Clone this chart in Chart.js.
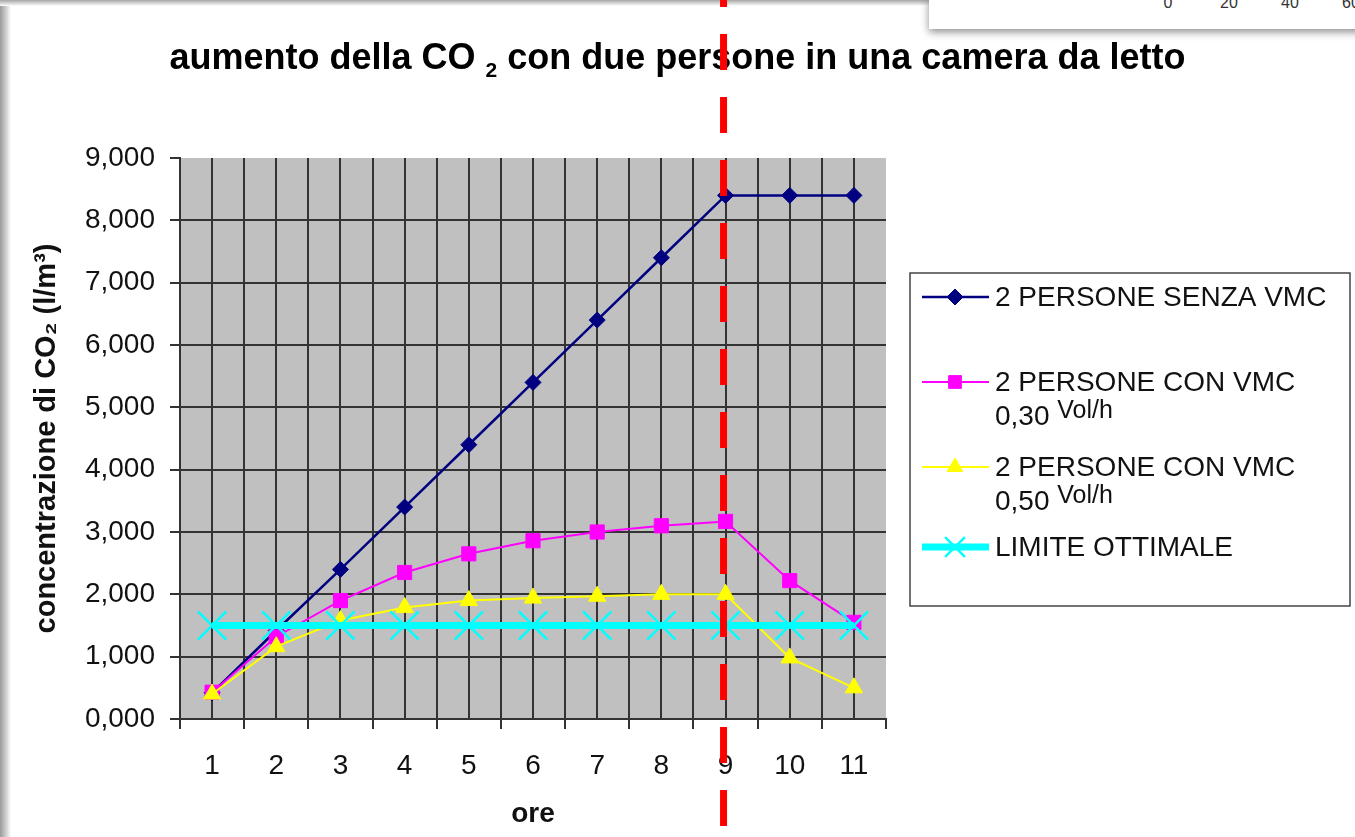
<!DOCTYPE html>
<html>
<head>
<meta charset="utf-8">
<title>aumento della CO2</title>
<script src="https://cdn.jsdelivr.net/npm/chart.js@4.4.1/dist/chart.umd.min.js"></script>
<style>
  html, body { margin: 0; padding: 0; background: #fff; }
  #pagina { position: relative; width: 1355px; height: 837px; overflow: hidden; background: #fff;
            font-family: 'Liberation Sans', Arial, sans-serif; }
  .ombra-sx { position: absolute; left: 0; top: 0; width: 11px; height: 837px;
              background: linear-gradient(to right, #9a9a9a, #d4d4d4 60%, #fff); }
  .ombra-su { position: absolute; left: 0; top: 0; width: 935px; height: 6px;
              background: linear-gradient(to bottom, #a6a6a6, #fff); }
  #riquadro { position: absolute; left: 929px; top: -2px; width: 440px; height: 31px; background: #fff;
              box-shadow: 0 3px 8px rgba(0, 0, 0, 0.45); }
  #riquadro span { position: absolute; top: -4px; font-size: 16px; color: #333; transform: translateX(-50%); }
  #contenitore { position: absolute; left: 0; top: 0; width: 1355px; height: 837px; }
</style>
</head>
<body>
<div id="pagina">
  <div class="ombra-sx"></div>
  <div class="ombra-su"></div>
  <div id="riquadro">
    <span style="left:239px">0</span>
    <span style="left:300px">20</span>
    <span style="left:361px">40</span>
    <span style="left:422px">60</span>
  </div>
  <div id="contenitore"><canvas id="graficoCO2"></canvas></div>
</div>
<script>
// Dati (concentrazione espressa come sull'asse: 1 = "1,000")
const ore = [1, 2, 3, 4, 5, 6, 7, 8, 9, 10, 11];
const senzaVmc = [0.42, 1.42, 2.40, 3.40, 4.40, 5.40, 6.40, 7.40, 8.40, 8.40, 8.40];
const vmc030 = [0.43, 1.32, 1.90, 2.35, 2.65, 2.86, 3.00, 3.10, 3.17, 2.22, 1.55];
const vmc050 = [0.40, 1.16, 1.58, 1.79, 1.90, 1.94, 1.97, 2.00, 2.00, 0.98, 0.50];
const limiteOttimale = [1.5, 1.5, 1.5, 1.5, 1.5, 1.5, 1.5, 1.5, 1.5, 1.5, 1.5];
const oraFine = 9; // linea rossa tratteggiata

const nomiSerie = ['2 PERSONE SENZA VMC', '2 PERSONE CON VMC', '2 PERSONE CON VMC', 'LIMITE OTTIMALE'];
const ricambi = [null, '0,30', '0,50', null];

const FONT = "'Liberation Sans', Arial, sans-serif";

function punti(valori) {
    return valori.map((v, i) => ({ x: ore[i], y: v }));
}

function isIntero(v) {
    return Math.abs(v - Math.round(v)) < 1e-6;
}

// Sfondo grigio dell'area del grafico
const sfondoPlugin = {
    id: 'sfondo',
    beforeDraw(chart) {
        const a = chart.chartArea;
        const ctx = chart.ctx;
        ctx.save();
        ctx.fillStyle = '#c0c0c0';
        ctx.fillRect(a.left, a.top, a.right - a.left, a.bottom - a.top);
        ctx.restore();
    }
};

// Titolo con il pedice di CO2
const titoloPlugin = {
    id: 'titolo',
    afterDraw(chart) {
        const ctx = chart.ctx;
        const parti = [
            { t: 'aumento della CO ', f: 'bold 36px ' + FONT, dy: 0 },
            { t: '2', f: 'bold 21px ' + FONT, dy: 8 },
            { t: ' con due persone in una camera da letto', f: 'bold 36px ' + FONT, dy: 0 }
        ];
        ctx.save();
        let w = 0;
        parti.forEach(p => { ctx.font = p.f; w += ctx.measureText(p.t).width; });
        let x = chart.width / 2 - w / 2;
        ctx.fillStyle = '#000';
        ctx.textBaseline = 'alphabetic';
        parti.forEach(p => {
            ctx.font = p.f;
            ctx.fillText(p.t, x, 69 + p.dy);
            x += ctx.measureText(p.t).width;
        });
        ctx.restore();
    }
};

// Legenda nello stile di Excel
const legendaPlugin = {
    id: 'legendaExcel',
    afterDraw(chart) {
        const ctx = chart.ctx;
        const box = { x: 910, y: 273, w: 440, h: 333 };
        const righeY = [297, 382, 467, 547];
        const raggi = [8, 9, 9, 14];
        ctx.save();
        ctx.strokeStyle = '#444';
        ctx.lineWidth = 1.5;
        ctx.strokeRect(box.x, box.y, box.w, box.h);

        chart.data.datasets.forEach((ds, i) => {
            const y = righeY[i];
            ctx.strokeStyle = ds.borderColor;
            ctx.lineWidth = ds.borderWidth;
            ctx.beginPath();
            ctx.moveTo(922, y);
            ctx.lineTo(989, y);
            ctx.stroke();

            ctx.fillStyle = ds.backgroundColor;
            ctx.strokeStyle = ds.borderColor;
            ctx.lineWidth = ds.pointBorderWidth;
            Chart.helpers.drawPoint(ctx, {
                pointStyle: ds.pointStyle,
                radius: raggi[i],
                rotation: 0,
                borderWidth: ds.pointBorderWidth
            }, 955, y);

            ctx.fillStyle = '#111';
            ctx.font = '28px ' + FONT;
            ctx.textBaseline = 'middle';
            ctx.fillText(nomiSerie[i], 995, y + 1);
            if (ricambi[i]) {
                ctx.textBaseline = 'alphabetic';
                ctx.font = '28px ' + FONT;
                ctx.fillText(ricambi[i], 995, y + 43);
                const w = ctx.measureText(ricambi[i] + ' ').width;
                ctx.font = '25px ' + FONT;
                ctx.fillText('Vol/h', 995 + w, y + 36);
            }
        });
        ctx.restore();
    }
};

// Linea verticale rossa tratteggiata alla nona ora
const lineaFinePlugin = {
    id: 'lineaFine',
    afterDraw(chart) {
        const ctx = chart.ctx;
        const x = chart.scales.x.getPixelForValue(oraFine) - 2;
        ctx.save();
        ctx.strokeStyle = '#ff0000';
        ctx.lineWidth = 7;
        ctx.setLineDash([36, 27]);
        ctx.beginPath();
        ctx.moveTo(x, -29);
        ctx.lineTo(x, chart.height);
        ctx.stroke();
        ctx.restore();
    }
};

const GRIGLIA = '#333';

new Chart(document.getElementById('graficoCO2'), {
    type: 'line',
    data: {
        datasets: [
            {
                label: '2 PERSONE SENZA VMC',
                data: punti(senzaVmc),
                borderColor: '#000080',
                backgroundColor: '#000080',
                borderWidth: 2.5,
                pointStyle: 'rectRot',
                pointRadius: 8,
                pointBorderWidth: 1,
                order: 4
            },
            {
                label: '2 PERSONE CON VMC 0,30 Vol/h',
                data: punti(vmc030),
                borderColor: '#ff00ff',
                backgroundColor: '#ff00ff',
                borderWidth: 2,
                pointStyle: 'rect',
                pointRadius: 10,
                pointBorderWidth: 1,
                order: 3
            },
            {
                label: '2 PERSONE CON VMC 0,50 Vol/h',
                data: punti(vmc050),
                borderColor: '#ffff00',
                backgroundColor: '#ffff00',
                borderWidth: 2,
                pointStyle: 'triangle',
                pointRadius: 10,
                pointBorderWidth: 1,
                order: 2
            },
            {
                label: 'LIMITE OTTIMALE',
                data: punti(limiteOttimale),
                borderColor: '#00ffff',
                backgroundColor: '#00ffff',
                borderWidth: 7,
                pointStyle: 'crossRot',
                pointRadius: 20,
                pointBorderWidth: 2.5,
                order: 1
            }
        ]
    },
    options: {
        responsive: true,
        maintainAspectRatio: false,
        animation: false,
        events: [],
        layout: {
            padding: { top: 158, left: 20, right: 469, bottom: 0 }
        },
        plugins: {
            legend: { display: false },
            title: { display: false },
            tooltip: { enabled: false }
        },
        scales: {
            x: {
                type: 'linear',
                min: 0.5,
                max: 11.5,
                afterFit: s => { s.height = 118; },
                ticks: {
                    stepSize: 0.5,
                    autoSkip: false,
                    maxRotation: 0,
                    padding: 20,
                    color: '#111',
                    font: { family: FONT, size: 28 },
                    callback: v => isIntero(v) ? String(Math.round(v)) : ''
                },
                grid: {
                    color: c => (c.tick && c.tick.value >= 11.5) ? 'rgba(0,0,0,0)' : GRIGLIA,
                    lineWidth: 2,
                    tickLength: 10,
                    tickColor: c => (c.tick && isIntero(c.tick.value)) ? 'rgba(0,0,0,0)' : GRIGLIA,
                    tickWidth: 2
                },
                border: { display: true, color: GRIGLIA, width: 2 },
                title: {
                    display: true,
                    text: 'ore',
                    color: '#111',
                    font: { family: FONT, size: 28, weight: 'bold' },
                    padding: { top: 0, bottom: 6 }
                }
            },
            y: {
                min: 0,
                max: 9,
                afterFit: s => { s.width = 160; },
                ticks: {
                    stepSize: 1,
                    padding: 15,
                    color: '#111',
                    font: { family: FONT, size: 28 },
                    callback: v => v.toFixed(3).replace('.', ',')
                },
                grid: {
                    color: c => (c.tick && c.tick.value >= 9) ? 'rgba(0,0,0,0)' : GRIGLIA,
                    lineWidth: 2,
                    tickLength: 10,
                    tickColor: GRIGLIA,
                    tickWidth: 2
                },
                border: { display: true, color: GRIGLIA, width: 2 },
                title: {
                    display: true,
                    text: 'concentrazione di CO\u2082 (l/m\u00b3)',
                    color: '#111',
                    font: { family: FONT, size: 29, weight: 'bold' },
                    padding: { top: 10, bottom: 0 }
                }
            }
        }
    },
    plugins: [sfondoPlugin, titoloPlugin, legendaPlugin, lineaFinePlugin]
});
</script>
</body>
</html>
